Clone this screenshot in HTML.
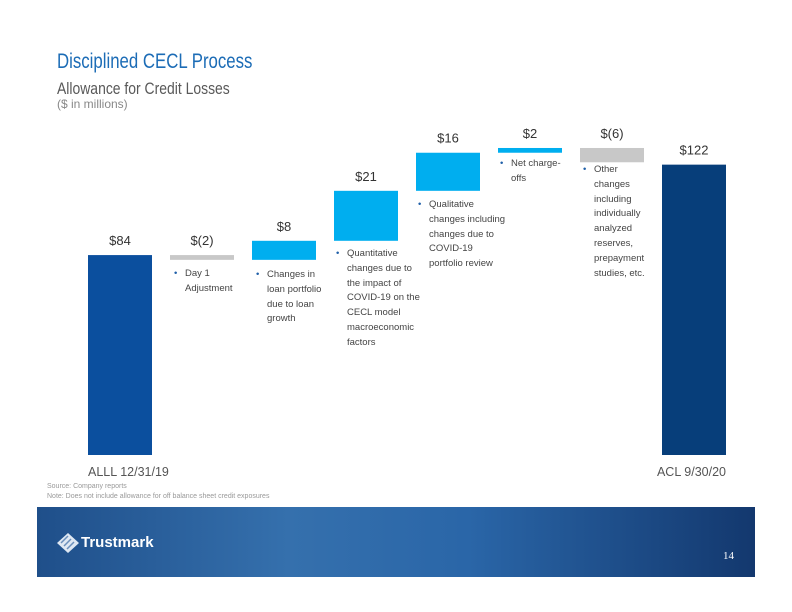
<!DOCTYPE html>
<html><head><meta charset="utf-8"><style>
body{margin:0;width:792px;height:612px;background:#fff;font-family:"Liberation Sans",sans-serif;position:relative;overflow:hidden}
.abs{position:absolute}
.note{position:absolute;font-size:9.5px;line-height:14.8px;color:#444;padding-left:11px}
.note:before{content:"•";position:absolute;left:0;color:#1f5fa8}
</style></head><body>
<div class="abs" style="left:57px;top:50px;font-size:21px;color:#1c6cb6;transform:scaleX(0.8);transform-origin:0 0;white-space:nowrap">Disciplined CECL Process</div>
<div class="abs" style="left:57px;top:79px;font-size:17px;color:#595959;transform:scaleX(0.82);transform-origin:0 0;white-space:nowrap">Allowance for Credit Losses</div>
<div class="abs" style="left:57px;top:97px;font-size:12px;color:#888">($ in millions)</div>
<svg class="abs" style="left:0;top:0" width="792" height="612" id="chart"></svg>
<div class="note" style="left:174px;top:267px;width:62px">Day 1 Adjustment</div>
<div class="note" style="left:256px;top:268px;width:62px">Changes in loan portfolio due to loan growth</div>
<div class="note" style="left:336px;top:247px;width:74px">Quantitative changes due to the impact of COVID-19 on the CECL model macroeconomic factors</div>
<div class="note" style="left:418px;top:198px;width:80px">Qualitative changes including changes due to COVID-19 portfolio review</div>
<div class="note" style="left:500px;top:157px;width:58px">Net charge-offs</div>
<div class="note" style="left:583px;top:163px;width:56px">Other changes including individually analyzed reserves, prepayment studies, etc.</div>
<div class="abs" style="left:47px;top:482px;font-size:7px;color:#999;line-height:10px">Source: Company reports<br>Note: Does not include allowance for off balance sheet credit exposures</div>
<div class="abs" style="left:37px;top:507px;width:718px;height:70px;background:linear-gradient(90deg,#1f4f8a 0%,#3570ad 35%,#2a66a8 60%,#13386e 100%)">
<svg class="abs" style="left:20px;top:26px" width="22" height="20"><polygon points="11,0 22,10 11,20 0,10" fill="#dfe8f3"/><path d="M4,10 L11,3 M7,13 L14,6 M10,16 L17,9" stroke="#6b8fbb" stroke-width="1.5"/></svg>
<div class="abs" style="left:44px;top:27px;color:#fff;font-weight:bold;font-size:15px">Trustmark</div>
<div class="abs" style="left:686px;top:43px;color:#fff;font-family:'Liberation Serif',serif;font-size:11px">14</div>
</div>
<script>
const categories=["ALLL 12/31/19","Day 1","Loan growth","Quantitative","Qualitative","Net charge-offs","Other","ACL 9/30/20"];
const deltas=[84,-2,8,21,16,2,-6,122];
const valueLabels=["$84","$(2)","$8","$21","$16","$2","$(6)","$122"];
const kinds=["total","step","step","step","step","step","step","total"];
const svg=document.getElementById('chart');
const NS="http://www.w3.org/2000/svg";
const base=455,k=2.38,x0=88,pitch=82,bw=64;
const y=v=>base-v*k;
const xb=i=>x0+i*pitch;
let run=0;
deltas.forEach((d,i)=>{
  let lo,hi,col;
  if(kinds[i]==="total"){lo=0;hi=d;run=d;col=i===0?"#0b4f9e":"#073e7a";}
  else{lo=Math.min(run,run+d);hi=Math.max(run,run+d);col=d<0?"#c8c8c8":"#00aeef";run+=d;}
  const r=document.createElementNS(NS,'rect');
  r.setAttribute('x',xb(i));r.setAttribute('y',y(hi));
  r.setAttribute('width',bw);r.setAttribute('height',Math.max(2,(hi-lo)*k));
  r.setAttribute('fill',col);
  
  
  svg.appendChild(r);
  const t=document.createElementNS(NS,'text');
  t.setAttribute('x',xb(i)+bw/2);t.setAttribute('y',y(hi)-10);
  t.setAttribute('text-anchor','middle');t.setAttribute('font-size','13');
  t.setAttribute('fill','#333');t.setAttribute('font-family','Liberation Sans, sans-serif');
  t.textContent=valueLabels[i];
  
  
  svg.appendChild(t);
});
[[0,"start"],[7,"end"]].forEach(([i,a])=>{
  const t=document.createElementNS(NS,'text');
  t.setAttribute('x',i===0?xb(0):xb(7)+bw);t.setAttribute('y',476);
  t.setAttribute('text-anchor',a);t.setAttribute('font-size','12.5');
  t.setAttribute('fill','#555');t.setAttribute('font-family','Liberation Sans, sans-serif');
  t.textContent=categories[i];
  
  
  svg.appendChild(t);
});
</script>
</body></html>
